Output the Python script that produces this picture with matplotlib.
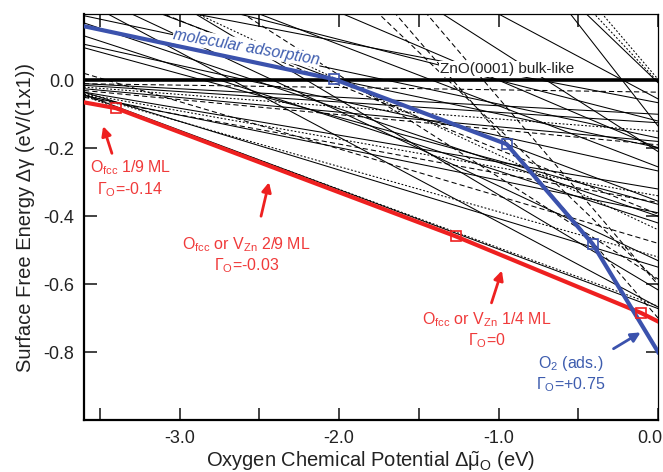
import numpy as np
import matplotlib
matplotlib.use("Agg")
import matplotlib.pyplot as plt
from matplotlib.ticker import MultipleLocator, FormatStrFormatter, FuncFormatter

plt.rcParams['font.family'] = ['Liberation Sans', 'DejaVu Sans']
plt.rcParams['mathtext.fontset'] = 'custom'
plt.rcParams['mathtext.rm'] = 'Liberation Sans'
plt.rcParams['mathtext.it'] = 'Liberation Sans'
plt.rcParams['axes.unicode_minus'] = False

# thin lines: surface free energy at dmu=0 and slope magnitude (dg = dg0 - gam*dmu)
line_dg0 = [-0.035, -0.10, -0.125, -0.15, -0.18, -0.19, -0.32, -0.34, -0.39, -0.36,
            -0.55, -0.52, -0.672, -0.665, -0.267, -0.365, -0.42, -0.40, -0.6675, -0.531,
            -0.394, -0.617, -0.585, -0.066, -0.5925, -0.6025, -0.21, -0.055,
            -0.135, -0.0075, -0.005, 0.0025, -0.255, -0.48, -0.44,
            -0.20, -0.12, -0.70, -0.356, -0.198, -0.17]
line_gam = [0.0069, 0.025, 0.0306, 0.0361, 0.0431, 0.0444, 0.0792, 0.0833, 0.0958, 0.0861,
            0.143, 0.133, 0.175, 0.172, 0.1036, 0.128, 0.153, 0.158, 0.25, 0.22,
            0.19, 0.28, 0.30, 0.09, 0.45, 0.55, 0.30, 0.25,
            0.60, 0.45, 0.50, 0.55, 0.18, 0.139, 0.22,
            0.20, 0.12, 0.544, 0.177, 0.099, 0.10]
line_sty = ['d', 's', 's', 'o', 's', 'd', 's', 'o', 's', 'd',
            's', 'o', 's', 'o', 's', 's', 's', 's', 's', 's',
            'd', 's', 'd', 's', 'd', 'd', 's', 's',
            's', 's', 'o', 'o', 's', 'd', 'o',
            's', 's', 'd', 's', 's', 's']

# envelopes
red_mu = [-3.6, -3.40, -1.27, -0.106, 0.0]
red_dg = [-0.065, -0.082, -0.459, -0.685, -0.71]
blue_mu = [-3.6, -2.03, -0.95, -0.41, 0.0]
blue_dg = [0.159, 0.003, -0.188, -0.482, -0.80]

RED = '#ee2020'
RED_T = '#f03a3a'
BLUE = '#3b52ad'
BLUE_T = '#3d5cae'

fig = plt.figure(figsize=(6.63, 4.72), dpi=100)
ax = fig.add_axes([0.1267, 0.110, 0.866, 0.8603])

styles = {'s': '-', 'd': (0, (5, 3)), 'o': (0, (1.8, 1.8))}
xs = np.array([-3.6, 0.0])
for b, g, st in zip(line_dg0, line_gam, line_sty):
    ax.plot(xs, b - g * xs, color='black', lw=0.75, ls=styles[st], zorder=2)

ax.axhline(0.0, color='black', lw=2.6, zorder=3)

ax.plot(red_mu, red_dg, color=RED, lw=3, zorder=4)
ax.plot(red_mu[1:-1], red_dg[1:-1], ls='none', marker='s', ms=7, mfc='none',
        mec=RED, mew=1.2, zorder=5)
ax.plot(blue_mu, blue_dg, color=BLUE, lw=3, zorder=4)
ax.plot(blue_mu[1:-1], blue_dg[1:-1], ls='none', marker='s', ms=7, mfc='none',
        mec=BLUE, mew=1.2, zorder=5)

ax.set_xlim(-3.6, 0.0)
ax.set_ylim(-1.0, 0.195)
ax.xaxis.set_major_locator(MultipleLocator(1.0))
ax.xaxis.set_minor_locator(MultipleLocator(0.5))
# the 0.0 label sits at the figure edge, drawn separately below
ax.xaxis.set_major_formatter(FuncFormatter(lambda v, p: '' if abs(v) < 1e-9 else '%.1f' % v))
ax.set_yticks([-0.8, -0.6, -0.4, -0.2, 0.0])
ax.yaxis.set_major_formatter(FormatStrFormatter('%.1f'))
ax.tick_params(which='both', direction='in', length=9, width=1.2,
               top=True, right=True, labelsize=13, pad=7, colors='#222')
for side in ['left', 'bottom']:
    ax.spines[side].set_linewidth(1.6)
for side in ['top', 'right']:
    ax.spines[side].set_linewidth(0.9)
ax.annotate('0.0', xy=(0.0, 0.0), xycoords=('data', 'axes fraction'),
            xytext=(3, -7), textcoords='offset points', ha='right', va='top',
            fontsize=13, color='#222', annotation_clip=False)

ax.set_xlabel(r'Oxygen Chemical Potential $\Delta\tilde{\mu}_{\rm O}$ (eV)',
              fontsize=14.5, labelpad=2, color='#222')
ax.set_ylabel('Surface Free Energy Δγ (eV/(1x1))', fontsize=14.5, labelpad=6,
              color='#222')

bb = dict(facecolor='white', edgecolor='none', pad=0.5)
ax.text(-2.58, 0.097, 'molecular adsorption', color=BLUE_T, fontsize=11.5,
        style='italic', rotation=-10, ha='center', va='center', bbox=bb, zorder=6)
ax.text(-0.95, 0.033, 'ZnO(0001) bulk-like', color='#222', fontsize=11,
        ha='center', va='center', bbox=bb, zorder=6)

aprops = dict(arrowstyle='-|>', lw=2, mutation_scale=14, shrinkA=0, shrinkB=0)
ax.text(-3.31, -0.29, 'O$_{\\rm fcc}$ 1/9 ML\n$\\Gamma_{\\rm O}$=-0.14',
        color=RED_T, fontsize=11.5, ha='center', va='center', zorder=7)
ax.annotate('', xy=(-3.48, -0.135), xytext=(-3.425, -0.215),
            arrowprops=dict(color=RED, **aprops), zorder=7)

ax.text(-2.58, -0.515, 'O$_{\\rm fcc}$ or V$_{\\rm Zn}$ 2/9 ML\n$\\Gamma_{\\rm O}$=-0.03',
        color=RED_T, fontsize=11.5, ha='center', va='center', zorder=7)
ax.annotate('', xy=(-2.44, -0.30), xytext=(-2.49, -0.40),
            arrowprops=dict(color=RED, **aprops), zorder=7)

ax.text(-1.075, -0.735, 'O$_{\\rm fcc}$ or V$_{\\rm Zn}$ 1/4 ML\n$\\Gamma_{\\rm O}$=0',
        color=RED_T, fontsize=11.5, ha='center', va='center', zorder=7)
ax.annotate('', xy=(-0.98, -0.56), xytext=(-1.045, -0.655),
            arrowprops=dict(color=RED, **aprops), zorder=7)

ax.text(-0.55, -0.865, 'O$_2$ (ads.)\n$\\Gamma_{\\rm O}$=+0.75',
        color=BLUE_T, fontsize=11.5, ha='center', va='center', zorder=7)
ax.annotate('', xy=(-0.11, -0.742), xytext=(-0.28, -0.79),
            arrowprops=dict(color=BLUE, **aprops), zorder=7)

fig.savefig('out.png', dpi=100)
